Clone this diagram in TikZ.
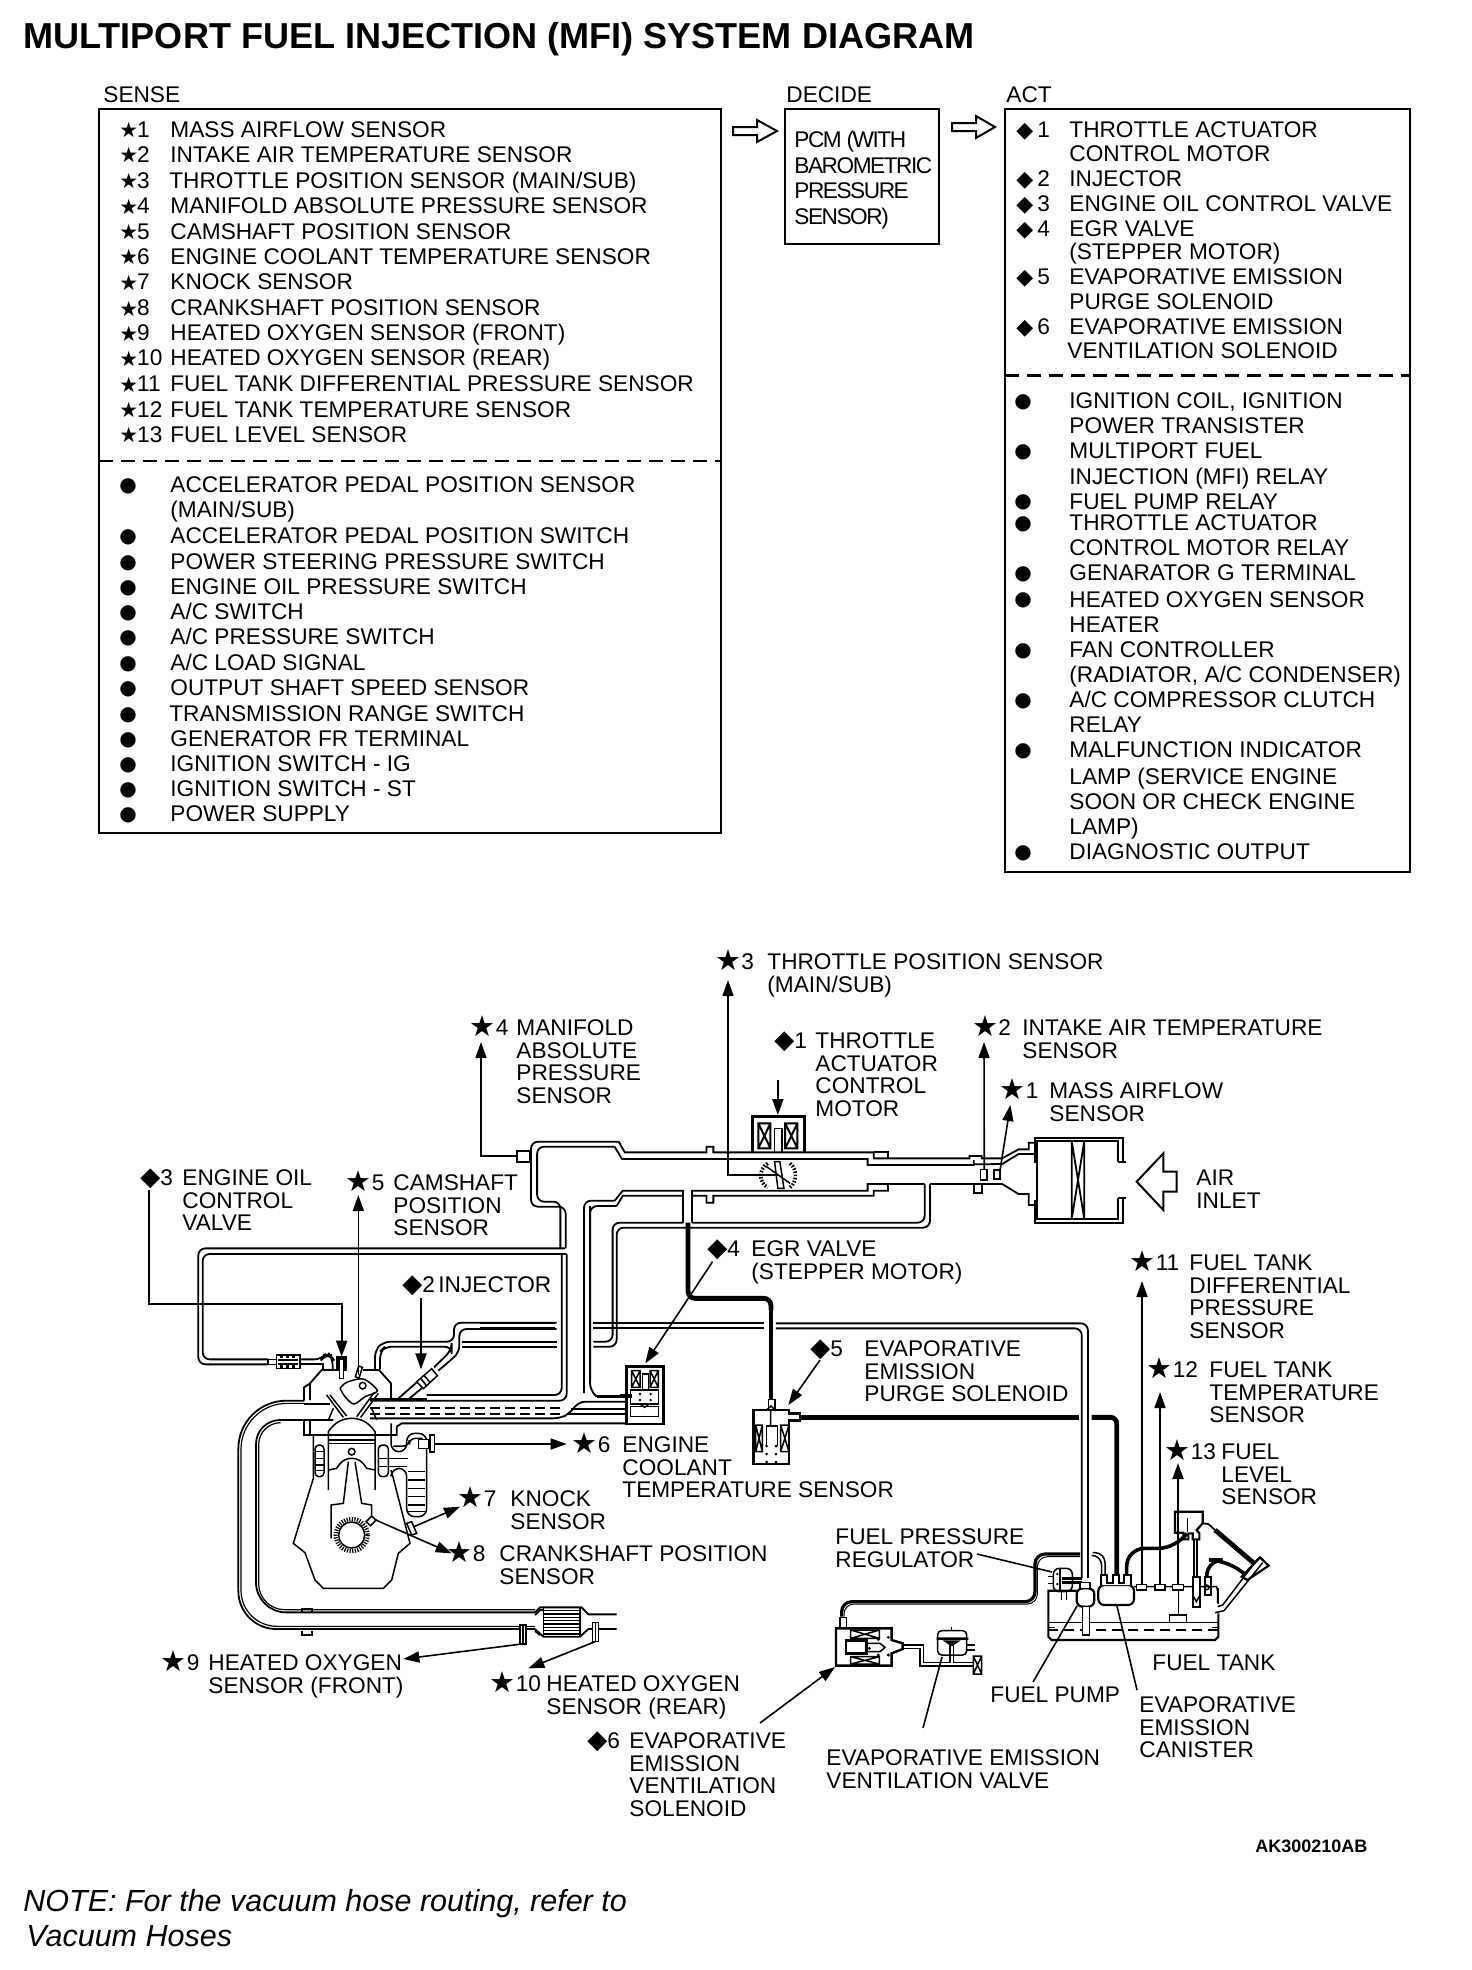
\documentclass[tikz,border=0pt]{standalone}
\usepackage{fontspec}
\setmainfont{Liberation Sans}
\newfontfamily\symf{DejaVu Sans}
\usetikzlibrary{arrows.meta}
\newcounter{rowc}
\newcommand\bodyfont{\fontsize{11.33}{11.33}\selectfont}
\newcommand\capstrut{\rule{0pt}{8.16pt}}
\newcommand\SmStar{\makebox[8.9pt][l]{\raisebox{-0.2pt}{\fontsize{10.5}{10.5}\selectfont\symf ★}}}
\newcommand\SmDia{\makebox[10.5pt][l]{\fontsize{11}{11}\selectfont\symf ◆}}
\newcommand\SmDot{\raisebox{0.6pt}{\fontsize{10}{10}\selectfont\symf ●}}
\newcommand\BgStar[1]{\makebox[#1][r]{\raisebox{-0.5pt}{\fontsize{14.5}{14.5}\selectfont\symf ★}}}
\newcommand\BgDia[1]{\makebox[#1][r]{\fontsize{13}{13}\selectfont\symf ◆}}
% list rows: marker x, y as read on the shrunk picture, text
\newcommand\Row[3]{\stepcounter{rowc}\node[rowtext] (r\therowc) at (#1,{1.256*#2}) {#3};}
\newcommand\Lbl[4]{\node[lbl] (#1) at (#2,#3) {\capstrut #4};}
\tikzset{
  rowtext/.style={anchor=base west,inner sep=0pt,yshift=-4pt,font=\bodyfont},
  lbl/.style={anchor=north west,inner sep=0pt,yshift=4.08pt,align=left,font=\bodyfont},
  frame/.style={draw,line width=1.4pt},
  sep/.style={line width=1.1pt,dash pattern=on 7pt off 4pt},
  hollow/.style={line width=1pt,fill=white,line join=miter},
  pipe/.style={line width=0.9pt},
  rc/.style={rounded corners=3.5pt},
  part/.style={line width=0.75pt},
  heavy/.style={line width=2.4pt},
  lead/.style={line width=0.8pt},
  leadarrow/.style={line width=0.8pt,-{Triangle[length=8pt,width=5.5pt]}},
  zz/.style={x=0.16667pt,y=-0.16667pt},
}
\begin{document}
\begin{tikzpicture}[x=0.5pt,y=-0.5pt]
\useasboundingbox (0,0) rectangle (1472,1970);
\fill[white] (0,0) rectangle (1472,1970);
% ---- title and notes
\node[anchor=base west,inner sep=0pt,font=\fontsize{18.03}{18.03}\selectfont\bfseries] (title) at (23,48) {MULTIPORT FUEL INJECTION (MFI) SYSTEM DIAGRAM};
\node[anchor=base west,inner sep=0pt,font=\fontsize{15.25}{15.25}\selectfont\itshape] (note1) at (23,1911) {NOTE: For the vacuum hose routing, refer to};
\node[anchor=base west,inner sep=0pt,font=\fontsize{15.25}{15.25}\selectfont\itshape] (note2) at (26,1946) {Vacuum Hoses};
\node[anchor=base west,inner sep=0pt,font=\fontsize{9}{9}\selectfont\bfseries] (code) at (1255,1852) {AK300210AB};
% ---- SENSE
\node[rowtext] (senseh) at (103,94) {SENSE};
\node[rowtext] (decideh) at (786,94) {DECIDE};
\node[rowtext] (acth) at (1006,94) {ACT};
\draw[frame] (99,109) rectangle (721,833);
\draw[sep] (99,461) -- (721,461);
\Row{119}{103}{\SmStar 1}\Row{170}{103}{MASS AIRFLOW SENSOR}
\Row{119}{123}{\SmStar 2}\Row{170}{123}{INTAKE AIR TEMPERATURE SENSOR}
\Row{119}{143.6}{\SmStar 3}\Row{169}{143.6}{THROTTLE POSITION SENSOR (MAIN/SUB)}
\Row{119}{164}{\SmStar 4}\Row{170}{164}{MANIFOLD ABSOLUTE PRESSURE SENSOR}
\Row{119}{184}{\SmStar 5}\Row{170}{184}{CAMSHAFT POSITION SENSOR}
\Row{119}{204}{\SmStar 6}\Row{170}{204}{ENGINE COOLANT TEMPERATURE SENSOR}
\Row{119}{224.5}{\SmStar 7}\Row{170}{224.5}{KNOCK SENSOR}
\Row{119}{245}{\SmStar 8}\Row{170}{245}{CRANKSHAFT POSITION SENSOR}
\Row{119}{265}{\SmStar 9}\Row{170}{265}{HEATED OXYGEN SENSOR (FRONT)}
\Row{119}{285}{\SmStar 10}\Row{170}{285}{HEATED OXYGEN SENSOR (REAR)}
\Row{119}{305.5}{\SmStar 11}\Row{170}{305.5}{FUEL TANK DIFFERENTIAL PRESSURE SENSOR}
\Row{119}{326}{\SmStar 12}\Row{170}{326}{FUEL TANK TEMPERATURE SENSOR}
\Row{119}{346}{\SmStar 13}\Row{170}{346}{FUEL LEVEL SENSOR}
\Row{119}{386}{\SmDot}\Row{170}{386}{ACCELERATOR PEDAL POSITION SENSOR}
\Row{170}{406}{(MAIN/SUB)}
\Row{119}{426.5}{\SmDot}\Row{170}{426.5}{ACCELERATOR PEDAL POSITION SWITCH}
\Row{119}{447}{\SmDot}\Row{170}{447}{POWER STEERING PRESSURE SWITCH}
\Row{119}{467}{\SmDot}\Row{170}{467}{ENGINE OIL PRESSURE SWITCH}
\Row{119}{487}{\SmDot}\Row{170}{487}{A/C SWITCH}
\Row{119}{507}{\SmDot}\Row{170}{507}{A/C PRESSURE SWITCH}
\Row{119}{527.5}{\SmDot}\Row{170}{527.5}{A/C LOAD SIGNAL}
\Row{119}{547.5}{\SmDot}\Row{170}{547.5}{OUTPUT SHAFT SPEED SENSOR}
\Row{119}{568}{\SmDot}\Row{169}{568}{TRANSMISSION RANGE SWITCH}
\Row{119}{588}{\SmDot}\Row{170}{588}{GENERATOR FR TERMINAL}
\Row{119}{608}{\SmDot}\Row{170}{608}{IGNITION SWITCH - IG}
\Row{119}{628}{\SmDot}\Row{170}{628}{IGNITION SWITCH - ST}
\Row{119}{648}{\SmDot}\Row{170}{648}{POWER SUPPLY}
% ---- flow arrows
\draw[hollow] (733,127) -- (757,127) -- (757,120) -- (777,131) -- (757,142) -- (757,135) -- (733,135) -- cycle;
\draw[hollow] (952,123) -- (976,123) -- (976,116) -- (995,127) -- (976,138) -- (976,131) -- (952,131) -- cycle;
% ---- DECIDE
\draw[frame] (785,109) rectangle (939,244);
\node[lbl,font=\bodyfont\addfontfeature{LetterSpace=-6.5}\setlength{\baselineskip}{12.73pt}] (pcm) at (794,139) {\capstrut PCM (WITH\\BAROMETRIC\\PRESSURE\\SENSOR)};
% ---- ACT
\draw[frame] (1005,109) rectangle (1410,872);
\draw[sep] (1005,375.5) -- (1410,375.5);
\Row{1016}{103}{\SmDia 1}\Row{1069}{103}{THROTTLE ACTUATOR}
\Row{1069}{122}{CONTROL MOTOR}
\Row{1016}{142}{\SmDia 2}\Row{1069}{142}{INJECTOR}
\Row{1016}{162}{\SmDia 3}\Row{1069}{162}{ENGINE OIL CONTROL VALVE}
\Row{1016}{182}{\SmDia 4}\Row{1069}{182}{EGR VALVE}
\Row{1069}{200}{(STEPPER MOTOR)}
\Row{1016}{220}{\SmDia 5}\Row{1069}{220}{EVAPORATIVE EMISSION}
\Row{1069}{240}{PURGE SOLENOID}
\Row{1016}{260}{\SmDia 6}\Row{1069}{260}{EVAPORATIVE EMISSION}
\Row{1067}{279}{VENTILATION SOLENOID}
\Row{1014}{319}{\SmDot}\Row{1069}{319}{IGNITION COIL, IGNITION}
\Row{1069}{339}{POWER TRANSISTER}
\Row{1014}{359}{\SmDot}\Row{1069}{359}{MULTIPORT FUEL}
\Row{1069}{379}{INJECTION (MFI) RELAY}
\Row{1014}{399}{\SmDot}\Row{1069}{399}{FUEL PUMP RELAY}
\Row{1014}{416}{\SmDot}\Row{1069}{416}{THROTTLE ACTUATOR}
\Row{1069}{436}{CONTROL MOTOR RELAY}
\Row{1014}{456}{\SmDot}\Row{1069}{456}{GENARATOR G TERMINAL}
\Row{1014}{477}{\SmDot}\Row{1069}{477}{HEATED OXYGEN SENSOR}
\Row{1069}{497}{HEATER}
\Row{1014}{517}{\SmDot}\Row{1069}{517}{FAN CONTROLLER}
\Row{1069}{537}{(RADIATOR, A/C CONDENSER)}
\Row{1014}{557}{\SmDot}\Row{1069}{557}{A/C COMPRESSOR CLUTCH}
\Row{1069}{577}{RELAY}
\Row{1014}{597}{\SmDot}\Row{1069}{597}{MALFUNCTION INDICATOR}
\Row{1069}{618}{LAMP (SERVICE ENGINE}
\Row{1069}{638}{SOON OR CHECK ENGINE}
\Row{1069}{658}{LAMP)}
\Row{1014}{678}{\SmDot}\Row{1069}{678}{DIAGNOSTIC OUTPUT}
% ---- diagram labels
\node[rowtext] (m3) at (716,961) {\BgStar{12.5pt}3};
\Lbl{l3}{767}{961}{THROTTLE POSITION SENSOR\\(MAIN/SUB)}
\node[rowtext] (m4) at (471,1027) {\BgStar{12.2pt}4};
\Lbl{l4}{516}{1027}{MANIFOLD\\ABSOLUTE\\PRESSURE\\SENSOR}
\node[rowtext] (d1) at (770,1040) {\BgDia{12pt}1};
\Lbl{ld1}{815}{1040}{THROTTLE\\ACTUATOR\\CONTROL\\MOTOR}
\node[rowtext] (m2) at (973,1027) {\BgStar{12.5pt}2};
\Lbl{l2}{1022}{1027}{INTAKE AIR TEMPERATURE\\SENSOR}
\node[rowtext] (m1) at (1001,1090) {\BgStar{12.2pt}1};
\Lbl{l1}{1049}{1090}{MASS AIRFLOW\\SENSOR}
\Lbl{lair}{1196}{1177}{AIR\\INLET}
\node[rowtext] (d3) at (140,1177) {\BgDia{10pt}3};
\Lbl{ld3}{182}{1177}{ENGINE OIL\\CONTROL\\VALVE}
\node[rowtext] (m5) at (347,1182) {\BgStar{12.2pt}5};
\Lbl{l5}{393}{1182}{CAMSHAFT\\POSITION\\SENSOR}
\node[rowtext] (d2) at (402,1284) {\BgDia{10pt}2};
\Lbl{ld2}{438}{1284}{INJECTOR}
\node[rowtext] (d4) at (707,1248) {\BgDia{10pt}4};
\Lbl{ld4}{751}{1248}{EGR VALVE\\(STEPPER MOTOR)}
\node[rowtext] (d5) at (810,1348) {\BgDia{10pt}5};
\Lbl{ld5}{864}{1348}{EVAPORATIVE\\EMISSION\\PURGE SOLENOID}
\node[rowtext] (m6) at (573,1444) {\BgStar{12.2pt}6};
\Lbl{l6}{622}{1444}{ENGINE\\COOLANT\\TEMPERATURE SENSOR}
\node[rowtext] (m7) at (459,1498) {\BgStar{12.2pt}7};
\Lbl{l7}{510}{1498}{KNOCK\\SENSOR}
\node[rowtext] (m8) at (448,1553) {\BgStar{12.2pt}8};
\Lbl{l8}{499}{1553}{CRANKSHAFT POSITION\\SENSOR}
\node[rowtext] (m9) at (162,1662) {\BgStar{12.2pt}9};
\Lbl{l9}{208}{1662}{HEATED OXYGEN\\SENSOR (FRONT)}
\node[rowtext] (m10) at (491,1683) {\BgStar{12.2pt}10};
\Lbl{l10}{546}{1683}{HEATED OXYGEN\\SENSOR (REAR)}
\node[rowtext] (d6) at (585,1740) {\BgDia{11pt}6};
\Lbl{ld6}{629}{1740}{EVAPORATIVE\\EMISSION\\VENTILATION\\SOLENOID}
\Lbl{lvv}{826}{1757}{EVAPORATIVE EMISSION\\VENTILATION VALVE}
\Lbl{lfp}{990}{1694}{FUEL PUMP}
\Lbl{lcan}{1139}{1704}{EVAPORATIVE\\EMISSION\\CANISTER}
\Lbl{ltank}{1152}{1662}{FUEL TANK}
\Lbl{lreg}{835}{1536}{FUEL PRESSURE\\REGULATOR}
\node[rowtext] (m11) at (1131,1262) {\BgStar{12.2pt}11};
\Lbl{l11}{1189}{1262}{FUEL TANK\\DIFFERENTIAL\\PRESSURE\\SENSOR}
\node[rowtext] (m12) at (1148,1369) {\BgStar{12.2pt}12};
\Lbl{l12}{1209}{1369}{FUEL TANK\\TEMPERATURE\\SENSOR}
\node[rowtext] (m13) at (1166,1451) {\BgStar{12.2pt}13};
\Lbl{l13}{1221}{1451}{FUEL\\LEVEL\\SENSOR}
% ---- engine, exhaust, hoses (read on a 3x grid from 130,1130)
\begin{scope}[shift={(130,1130)},zz,pipe]
\draw[rc] (1305,355) -- (205,355) -- (205,703) -- (415,703);
\draw[rc] (1310,372) -- (218,372) -- (218,688) -- (415,688);
\draw (415,688) -- (415,703);
\draw[part] (415,688) -- (440,688) (415,703) -- (440,703);
\draw[part] (440,675) rectangle (510,715) (445,690) -- (505,690) (445,702) -- (505,702);
\draw[line width=1.4pt,dash pattern=on 1.5pt off 1.5pt] (450,681) -- (503,681) (450,709) -- (503,709);
\draw[rc] (510,688) -- (575,688) -- (585,675) -- (600,675) -- (608,685) -- (608,720);
\draw (510,703) -- (578,703) -- (578,720);
% head
\draw (650,720) -- (575,720) -- (540,760) -- (540,810);
\draw (540,760) -- (522,772) -- (522,812);
\draw (745,718) -- (783,760) -- (783,808);
\draw (700,720) -- (745,720);
\draw (720,808) -- (890,808);
\draw (522,870) -- (522,915) -- (800,915) -- (800,890) -- (815,880) -- (1503,880);
\draw (540,870) -- (540,915);
% exhaust
\draw (522,812) -- (470,812) [rounded corners=24pt] -- (325,812) -- (325,1130) [rounded corners=19pt] -- (325,1497) -- (1215,1497);
\draw[line width=.6pt] (522,820) -- (470,820) [rounded corners=23pt] -- (333,820) -- (333,1130) [rounded corners=18pt] -- (333,1489) -- (1215,1489);
\draw (610,870) -- (445,870) [rounded corners=12pt] -- (378,870) -- (378,1130) [rounded corners=15pt] -- (378,1447) -- (1215,1447);
\draw[line width=.6pt] (445,878) [rounded corners=11pt] -- (386,878) -- (386,1130) [rounded corners=13pt] -- (386,1439) -- (1215,1439);
\draw (522,822) -- (600,822);
% intake port and hose walls
\draw[rc] (720,812) -- (1310,812) -- (1310,372);
\draw[rc] (890,795) -- (1295,795) -- (1295,372);
\draw[rc] (1503,815) -- (1345,815) -- (1320,850) -- (1290,865) -- (720,865);
\draw[dash pattern=on 5pt off 2.5pt] (720,835) -- (1300,835) (720,852) -- (1300,852);
\draw (1322,838) -- (1503,838) (1310,852) -- (1503,852);
\draw[rc] (1400,800) -- (1380,780) -- (1380,228);
\draw[line width=1.8pt] (1400,800) -- (1503,800);
% fuel rail
\draw[rc] (1280,578) -- (972,578) -- (972,635) -- (760,635) -- (735,660) -- (735,718);
\draw[rc] (1280,597) -- (988,597) -- (988,668) -- (925,722);
\draw (1280,635) -- (995,635) (1280,650) -- (995,650);
\draw[rc] (750,718) -- (750,665) -- (765,650) -- (965,650) -- (965,660) -- (912,712);
\draw (800,810) -- (860,757) (835,808) -- (875,775);
% injector
\draw[part] (860,755) -- (905,716) -- (922,737) -- (880,776) -- cycle (872,745) -- (890,768) (882,736) -- (900,757);
% cam, valves
\draw[part,smooth] plot coordinates {(630,775) (650,757) (700,747) (742,782) (705,800) (672,822) (645,800) (630,775)};
\draw[part] (698,767) circle[radius=10];
\draw[part] (590,795) -- (640,862) (600,795) -- (650,858) (745,790) -- (692,862) (733,787) -- (680,860);
\draw[part] (610,835) -- (595,870) (725,835) -- (740,870);
% cam position sensor, oil valve
\draw[part] (676,740) -- (686,708) -- (697,712) -- (687,745) -- cycle;
\draw[part,fill=black] (620,680) rectangle (650,715);
\draw[part,fill=white] (628,688) rectangle (640,745);
% piston, block
\draw[part] (595,1080) -- (595,905) .. controls (615,875) and (640,865) .. (665,865) .. controls (690,865) and (715,875) .. (735,905) -- (735,1080);
\draw[part] (595,930) -- (735,930) (595,940) -- (735,940);
\draw[part] (595,1020) -- (620,1015) .. controls (635,990) and (650,985) .. (665,985) .. controls (680,985) and (695,990) .. (710,1015) -- (735,1020);
\draw[part] (665,965) circle[radius=10];
\draw[part] (655,995) -- (640,1120) -- (603,1125) -- (603,1225);
\draw[part] (675,995) -- (695,1120) -- (725,1125) -- (725,1160);
\draw[part] (665,1215) circle[radius=39];
\draw[line width=2.1pt,dash pattern=on 0.6pt off 0.7pt] (665,1215) circle[radius=48];
% block outline
\draw[part] (550,915) -- (550,1045) -- (490,1240) -- (525,1268) -- (555,1350) -- (580,1375) -- (760,1375) -- (785,1350) -- (805,1270) -- (840,1240) -- (790,1045) -- (783,1020);
% water jackets
\draw[part,rounded corners=2pt] (555,945) rectangle (582,1040);
\draw[part] (555,965) -- (582,965) (555,985) -- (582,985) (555,1005) -- (582,1005) (555,1022) -- (582,1022);
\draw[part,rounded corners=2pt] (745,945) rectangle (775,1040);
\draw[part] (745,985) -- (835,985) (745,1010) -- (830,1010);
\draw[part,rounded corners=4pt] (783,880) -- (783,965) -- (830,965) -- (830,910) -- (890,910) -- (890,1160) -- (830,1160) -- (830,1015) -- (785,1015) -- (783,1035);
\draw[part,rounded corners=3pt] (790,948) -- (838,948) -- (838,925) -- (878,925);
\draw[part] (835,1025) -- (885,1025) (835,1050) -- (885,1050) (835,1075) -- (885,1075) (835,1100) -- (885,1100) (835,1125) -- (885,1125) (835,1145) -- (885,1145);
% coolant sensor
\draw[part,fill=white] (865,928) rectangle (897,955);
\draw[part,fill=white] (900,915) rectangle (913,966);
% knock sensor, crank sensor
\draw[part,fill=white] (830,1180) -- (845,1175) -- (860,1210) -- (845,1215) -- cycle;
\draw[part,fill=white] (708,1175) -- (725,1158) -- (738,1170) -- (722,1187) -- cycle;
% leaders' ends
\coordinate (e3a) at (58,180);\coordinate (e3b) at (58,522);\coordinate (e3c) at (635,680);
\coordinate (e5a) at (685,735);\coordinate (e5b) at (685,195);
\coordinate (e2a) at (873,505);\coordinate (e2b) at (873,718);
\coordinate (e6a) at (913,942);\coordinate (e6b) at (1310,942);
\coordinate (e7a) at (852,1190);\coordinate (e7b) at (990,1130);
\coordinate (e8a) at (733,1168);\coordinate (e8b) at (965,1270);
\end{scope}
% ---- exhaust end (3x grid from 200,1560)
\begin{scope}[shift={(200,1560)},zz,pipe]
\draw (305,157) -- (305,147) -- (335,147) -- (335,157);
\draw (305,213) -- (305,224) -- (335,224) -- (335,213);
\draw (1005,157) -- (1020,142) -- (1145,142) -- (1165,163) -- (1250,163);
\draw (1005,165) -- (1020,150) -- (1030,150);
\draw (1005,207) -- (1030,230) -- (1140,230) -- (1165,207) -- (1250,207);
\draw (1005,213) -- (1020,225);
\draw[part] (1030,142) -- (1030,230) (1140,142) -- (1140,230);
\foreach \yy in {152,162,172,182,192,202,212,222} {\draw[part] (1030,\yy) -- (1140,\yy);}
\draw[part,fill=white] (960,195) rectangle (978,252) (969,195) -- (969,252);
\draw[part,fill=white] (1178,188) rectangle (1195,245) (1186,188) -- (1186,245);
\coordinate (e9a) at (965,252);\coordinate (e9b) at (610,297);
\coordinate (e10a) at (1185,245);\coordinate (e10b) at (985,325);
\end{scope}
% ---- manifold and throttle (grid from 480,1080)
\begin{scope}[shift={(480,1080)},x=0.204pt,y=-0.16667pt,pipe]
\draw[rc] (210,505) -- (210,380) -- (125,380) -- (125,185) -- (340,185);
\draw (340,185) -- (355,217) -- (555,217) -- (555,200) -- (572,200) -- (572,217) -- (965,217) -- (965,235) -- (1200,235) -- (1200,228) -- (1230,228) -- (1230,235) -- (1280,235) -- (1320,208) -- (1345,208) -- (1345,188) -- (1360,188);
\draw[rc] (197,505) -- (197,365) -- (140,365) -- (140,200) -- (330,200);
\draw (330,200) -- (348,237) -- (950,237) -- (950,255) -- (1210,255) -- (1210,240) (1210,253) -- (1280,252) -- (1320,222) -- (1360,222);
\draw (965,217) -- (1000,217) -- (1000,235);
\draw (90,212) rectangle (122,245);
% lower wall
\draw[rc] (255,939) -- (255,362) -- (330,362);
\draw (330,362) -- (350,332) -- (498,332) (520,332) -- (950,332) -- (950,312) -- (1090,312) (1103,312) -- (1280,312) -- (1320,342) -- (1345,342) -- (1345,375) -- (1360,375);
\draw[rc] (270,905) -- (270,378) -- (335,378);
\draw (335,378) -- (350,347) -- (498,347) (520,347) -- (555,347) -- (555,368) -- (572,368) -- (572,347) -- (965,347) -- (965,332) -- (1000,332) -- (1000,315);
\draw (1210,312) -- (1210,340) -- (1230,340) -- (1230,316);
\draw (498,330) -- (498,428) (520,330) -- (520,428);
\draw[rc] (498,428) -- (325,428) -- (325,785) -- (278,785);
\draw[rc] (1103,312) -- (1103,443) -- (335,443) -- (335,800) -- (278,800);
\draw[rc] (520,428) -- (1090,428) -- (1090,312);
% fuel line
\draw (0,730) -- (185,730) (0,745) -- (185,745) (0,785) -- (185,785) (0,800) -- (185,800);
\draw (278,730) -- (695,730) (278,745) -- (695,745);
\draw[rc] (725,730) -- (1490,730) -- (1490,1494);
\draw[rc] (725,745) -- (1475,745) -- (1475,1494);
% thick EGR-purge line
\draw[line width=2.4pt,rounded corners=3.5pt] (510,428) -- (510,655) -- (713,655) -- (713,690);
\draw[line width=1.7pt] (713,685) -- (713,960);
% throttle motor
\draw[line width=1.2pt] (668,218) -- (668,110) -- (795,110) -- (795,218);
\draw[line width=1pt] (682,130) rectangle (712,205) (748,130) rectangle (778,205) (682,130) -- (712,205) (712,130) -- (682,205) (748,130) -- (778,205) (778,130) -- (748,205);
\draw[part] (722,218) -- (722,145) -- (740,145) -- (740,218);
% throttle valve
\draw[part,fill=white] (722,245) -- (735,245) -- (745,325) -- (730,325) -- cycle;
\draw[line width=1.8pt,dash pattern=on 0.8pt off 0.8pt] (705,250) .. controls (680,270) and (685,310) .. (705,322);
\draw[line width=1.8pt,dash pattern=on 0.8pt off 0.8pt] (760,250) .. controls (780,270) and (775,310) .. (760,322);
\draw[part] (700,258) -- (760,310);
% sensors in duct
\draw[part,fill=white] (1227,268) rectangle (1243,300) (1260,270) rectangle (1275,297);
% leader ends
\coordinate (et3a) at (730,285);\coordinate (et3b) at (607,0);
\coordinate (e1a) at (730,0);\coordinate (e1b) at (730,105);
\coordinate (ei2) at (1236,268);
\coordinate (ei1a) at (1275,268);\coordinate (ei1b) at (1300,75);
\coordinate (em4) at (90,228);
\coordinate (ed4a) at (570,545);\coordinate (ed4b) at (405,850);
\end{scope}
% ---- air box (grid from 1000,1100)
\begin{scope}[shift={(1000,1100)},zz,line width=.9pt]
\draw (355,185) -- (355,122) -- (112,122) -- (112,358) -- (355,358) -- (355,295);
\draw (105,188) -- (105,115) -- (368,115) -- (368,185) -- (378,185);
\draw (105,300) -- (105,370) -- (368,370) -- (368,295) -- (378,295);
\draw (355,185) -- (368,185) (355,295) -- (368,295);
\draw (215,122) -- (215,358) (253,122) -- (253,358) (215,122) -- (253,358) (253,122) -- (215,358);
\draw[line width=1pt] (410,245) -- (490,160) -- (490,215) -- (530,215) -- (530,275) -- (490,275) -- (490,330) -- cycle;
\end{scope}
% ---- EGR valve, purge solenoid (grid from 590,1300)
\begin{scope}[shift={(590,1300)},zz,part]
\draw[line width=1.2pt,fill=white] (110,200) rectangle (220,372);
\draw (125,212) rectangle (150,262) (125,212) -- (150,262) (150,212) -- (125,262);
\draw (180,212) rectangle (205,262) (180,212) -- (205,262) (205,212) -- (180,262);
\draw (157,270) -- (157,222) -- (175,222) -- (175,270);
\draw (122,270) rectangle (205,312) (122,320) rectangle (205,350);
\draw (150,312) -- (178,312) -- (164,322) -- cycle;
\fill (150,282) circle[radius=4] (150,300) circle[radius=4] (182,282) circle[radius=4] (182,300) circle[radius=4];
\draw[line width=1.8pt] (90,288) -- (125,288);
% purge solenoid
\draw[line width=1.2pt] (490,330) -- (597,330) -- (597,340) -- (630,340) -- (630,362) -- (597,362) -- (597,492) -- (490,492) -- cycle;
\draw (535,330) -- (535,298) -- (555,298) -- (555,330);
\draw (530,330) -- (543,318) -- (555,330) (542,330) -- (542,378);
\draw (497,375) rectangle (517,455) (497,375) -- (517,455) (517,375) -- (497,455);
\draw (572,375) rectangle (597,455) (572,375) -- (597,455) (597,375) -- (572,455);
\draw (530,438) -- (530,378) -- (562,378) -- (562,438);
\foreach \xx in {530,558} {\foreach \yy in {438,462,486} {\fill (\xx,\yy) circle[radius=4.5];}}
\draw[heavy] (630,352) -- (1468,352);
\coordinate (e4b) at (595,315);\coordinate (e5s) at (690,180);
\end{scope}
% ---- fuel side (grid from 760,1400)
\begin{scope}[shift={(760,1400)},zz,part]
\draw[line width=2.4pt,rounded corners=3pt] (995,52) -- (1070,52) -- (1070,525);
% feed hose
\draw[line width=1.6pt,rounded corners=5pt] (245,650) -- (245,605) -- (825,605) -- (825,462) -- (960,462);
\draw[line width=.5pt,rounded corners=5pt] (252,650) -- (252,612) -- (832,612) -- (832,470) -- (960,470);
\draw[rounded corners=5pt] (998,458) -- (1035,458) -- (1035,525) (998,466) -- (1025,466) -- (1025,525);
\draw (240,685) -- (240,652) -- (260,652) -- (260,685);
% solenoid 6
\draw[line width=1.2pt] (228,685) -- (395,685) -- (395,720) -- (428,730) -- (428,747) -- (395,760) -- (395,797) -- (228,797) -- cycle;
\draw (272,690) rectangle (358,715) (272,690) -- (358,715) (358,690) -- (272,715);
\draw (272,770) rectangle (358,792) (272,770) -- (358,792) (358,770) -- (272,792);
\draw[line width=1.2pt] (258,722) rectangle (320,760);
\draw (320,730) -- (360,730) -- (375,742) -- (360,755) -- (320,755);
\fill (385,712) circle[radius=5] (385,765) circle[radius=5] (355,718) circle[radius=5] (355,765) circle[radius=5] (328,745) circle[radius=5];
% hoses to vent valve
\draw (428,735) -- (490,735) -- (490,788) -- (570,788) -- (570,730);
\draw (428,745) -- (480,745) -- (480,798) -- (640,798);
\draw (580,730) -- (580,788) -- (640,788);
\draw[rounded corners=2pt] (533,692) rectangle (620,765);
\draw[line width=1.2pt] (530,716) -- (625,716) (560,725) -- (590,725) -- (575,735) -- cycle;
\draw (575,692) -- (575,680) (620,735) -- (645,735) (620,750) -- (645,750);
\draw (640,768) rectangle (665,822) (640,768) -- (665,822) (665,768) -- (640,822);
% regulator
\draw[rounded corners=3pt,fill=white] (880,505) rectangle (937,575);
\draw (900,505) -- (900,575) (865,530) -- (880,530) (865,550) -- (880,550) (905,575) -- (905,600) (920,575) -- (920,600);
\draw[line width=1.4pt] (905,535) -- (965,535) (905,547) -- (965,547);
\fill (892,522) circle[radius=4] (892,552) circle[radius=4];
% tank
\draw[line width=1.1pt] (950,572) -- (865,572) -- (865,710) -- (875,720) -- (1365,720) -- (1375,710) -- (1375,640);
\draw (865,668) -- (1230,668) (1280,668) -- (1375,668);
\draw[dash pattern=on 5pt off 3pt] (865,690) -- (1375,690);
\draw (865,682) -- (885,682) (1355,682) -- (1375,682);
\end{scope}
% ---- tank top (grid from 1040,1480)
\begin{scope}[shift={(1040,1480)},zz,part]
\draw[line width=1.1pt,rounded corners=3pt,fill=white] (110,325) rectangle (163,380);
\draw[fill=white] (120,308) rectangle (150,325);
\draw[fill=white] (128,380) rectangle (148,465);
\draw[line width=1.1pt,rounded corners=3pt,fill=white] (175,315) rectangle (282,375);
\draw[line width=1.1pt,fill=white] (183,315) -- (183,285) -- (200,285) -- (200,308) -- (218,308) -- (218,285) -- (238,285) -- (238,308) -- (252,308) -- (252,285) -- (272,285) -- (272,315);
\draw (282,320) -- (458,320) (480,320) -- (530,320) -- (533,335) -- (533,370) ;
\draw[fill=white] (290,313) rectangle (320,330) (345,313) rectangle (375,330) (398,313) rectangle (430,330);
\draw (415,330) -- (415,405);
\draw (388,405) rectangle (440,428);
% filler unit
\draw[line width=1.1pt] (405,158) -- (405,95) -- (488,95) -- (488,130) -- (470,150) -- (478,160) -- (478,178) -- (458,178) -- (458,160) -- (445,160) -- (445,178) -- (430,178) -- (430,158) -- cycle;
\draw (443,115) -- (443,155);
\draw[line width=1.8pt,rounded corners=9pt] (260,285) -- (260,205) -- (410,205) -- (430,175);
\draw[line width=.9pt] (462,178) -- (462,290) (471,178) -- (471,290);
\draw[line width=1.1pt,fill=white] (458,290) rectangle (480,380);
\draw (458,345) -- (469,365) -- (480,345);
\draw[line width=.9pt] (488,130) -- (505,132) -- (525,150);
\draw[line width=2.4pt] (525,150) -- (640,248);
\draw[line width=1.8pt,rounded corners=8pt] (500,290) -- (500,240) -- (555,240) -- (612,280);
\draw[line width=.9pt] (494,290) rectangle (512,345);
\draw (500,322) circle[radius=7];
% filler neck
\draw (533,380) -- (548,375) -- (652,238) (525,398) -- (552,392) -- (668,248);
\draw[line width=1.1pt] (605,290) -- (660,232) -- (686,257) -- (622,300) -- cycle;
\draw (535,325) -- (535,372);
\end{scope}
% ---- leaders
\draw[leadarrow] (et3a) -- (728,1175) -- (728,980);
\draw[leadarrow] (em4) -- (481,1156) -- (481,1042);
\draw[line width=1pt,-{Triangle[length=8pt,width=5.5pt]}] (e1a) -- (e1b);
\coordinate (t2) at (984,1042);
\draw[leadarrow] (ei2) -- (t2);
\draw[leadarrow] (ei1a) -- (ei1b);
\draw[line width=1pt,-{Triangle[length=8pt,width=5.5pt]}] (e3a) -- (e3b) -- (e3b -| e3c) -- (e3c);
\draw[leadarrow] (e5a) -- (e5b);
\draw[line width=1pt,-{Triangle[length=8pt,width=5.5pt]}] (e2a) -- (e2b);
\draw[leadarrow] (e6a) -- (e6b);
\draw[leadarrow] (e7a) -- (e7b);
\draw[leadarrow] (e8a) -- (e8b);
\draw[leadarrow] (e9a) -- (e9b);
\draw[leadarrow] (e10a) -- (e10b);
\draw[leadarrow] (ed4a) -- (ed4b);
\draw[leadarrow] (e5s) -- (e4b);
\coordinate (v6a) at (760,1723);\coordinate (v6b) at (835,1667);
\draw[leadarrow] (v6a) -- (v6b);
\coordinate (vva) at (923,1728);\coordinate (vvb) at (942,1657);
\draw[lead] (vva) -- (vvb);
\coordinate (rga) at (977,1554);\coordinate (rgb) at (1052,1572);
\draw[lead] (rga) -- (rgb);
\coordinate (fpa) at (1033,1682);\coordinate (fpb) at (1077,1606);
\draw[lead] (fpa) -- (fpb);
\coordinate (cna) at (1137,1690);\coordinate (cnb) at (1117,1606);
\draw[lead] (cna) -- (cnb);
\draw[leadarrow] (1142,1584) -- (1142,1281);
\draw[leadarrow] (1160,1584) -- (1160,1392);
\draw[line width=1pt,-{Triangle[length=8pt,width=5.5pt]}] (1178,1584) -- (1178,1463);
\end{tikzpicture}
\end{document}
